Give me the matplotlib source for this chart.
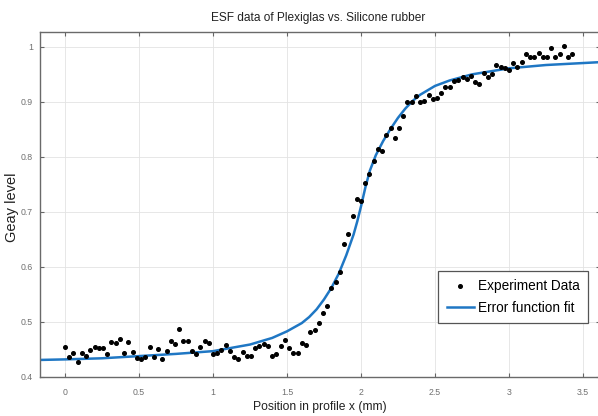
import numpy as np
import matplotlib
matplotlib.use("Agg")
import matplotlib.pyplot as plt
from matplotlib import font_manager

# ---------------- data ----------------
x_mm = [0.000, 0.029, 0.057, 0.086, 0.114, 0.143, 0.171, 0.200, 0.229, 0.257,
        0.286, 0.314, 0.343, 0.371, 0.400, 0.429, 0.457, 0.486, 0.514, 0.543,
        0.571, 0.600, 0.629, 0.657, 0.686, 0.714, 0.743, 0.771, 0.800, 0.829,
        0.857, 0.886, 0.914, 0.943, 0.971, 1.000, 1.029, 1.057, 1.086, 1.114,
        1.143, 1.171, 1.200, 1.229, 1.257, 1.286, 1.314, 1.343, 1.371, 1.400,
        1.429, 1.457, 1.486, 1.514, 1.543, 1.571, 1.600, 1.629, 1.657, 1.686,
        1.714, 1.743, 1.771, 1.800, 1.829, 1.857, 1.886, 1.914, 1.943, 1.971,
        2.000, 2.029, 2.057, 2.086, 2.114, 2.143, 2.171, 2.200, 2.229, 2.257,
        2.286, 2.314, 2.343, 2.371, 2.400, 2.429, 2.457, 2.486, 2.514, 2.543,
        2.571, 2.600, 2.629, 2.657, 2.686, 2.714, 2.743, 2.771, 2.800, 2.829,
        2.857, 2.886, 2.914, 2.943, 2.971, 3.000, 3.029, 3.057, 3.086, 3.114,
        3.143, 3.171, 3.200, 3.229, 3.257, 3.286, 3.314, 3.343, 3.371, 3.400,
        3.429]

gray_level = [0.455, 0.436, 0.443, 0.428, 0.444, 0.438, 0.449, 0.455, 0.452, 0.452,
              0.442, 0.464, 0.461, 0.469, 0.444, 0.463, 0.446, 0.434, 0.433, 0.436,
              0.455, 0.437, 0.451, 0.433, 0.448, 0.466, 0.460, 0.487, 0.466, 0.466,
              0.447, 0.441, 0.455, 0.466, 0.462, 0.442, 0.443, 0.449, 0.459, 0.447,
              0.436, 0.433, 0.445, 0.439, 0.439, 0.453, 0.457, 0.460, 0.456, 0.439,
              0.442, 0.456, 0.467, 0.453, 0.443, 0.443, 0.462, 0.458, 0.481, 0.486,
              0.499, 0.517, 0.529, 0.561, 0.572, 0.590, 0.641, 0.660, 0.692, 0.724,
              0.720, 0.752, 0.769, 0.793, 0.814, 0.811, 0.839, 0.853, 0.835, 0.852,
              0.874, 0.900, 0.900, 0.910, 0.900, 0.901, 0.913, 0.906, 0.907, 0.916,
              0.927, 0.927, 0.938, 0.940, 0.945, 0.942, 0.947, 0.936, 0.933, 0.952,
              0.945, 0.950, 0.967, 0.963, 0.961, 0.958, 0.970, 0.964, 0.973, 0.987,
              0.982, 0.982, 0.988, 0.982, 0.982, 0.998, 0.981, 0.987, 1.001, 0.981,
              0.987]

fit_x = [-0.17, 0.0, 0.25, 0.5, 0.75, 1.0, 1.25, 1.4, 1.5, 1.6, 1.65, 1.7, 1.75,
         1.8, 1.85, 1.9, 1.95, 1.975, 2.0, 2.03, 2.06, 2.1, 2.15, 2.2, 2.25, 2.3, 2.35,
         2.4, 2.5, 2.6, 2.75, 3.0, 3.25, 3.6]
fit_y = [0.431, 0.432, 0.434, 0.438, 0.442, 0.447, 0.459, 0.471, 0.483, 0.498,
         0.509, 0.523, 0.541, 0.562, 0.588, 0.621, 0.659, 0.683, 0.710, 0.745, 0.775,
         0.803, 0.829, 0.851, 0.871, 0.888, 0.902, 0.913, 0.929, 0.939, 0.950,
         0.961, 0.967, 0.972]

x_ticks = [0, 0.5, 1, 1.5, 2, 2.5, 3, 3.5]
x_tick_labels = ["0", "0.5", "1", "1.5", "2", "2.5", "3", "3.5"]
y_ticks = [0.4, 0.5, 0.6, 0.7, 0.8, 0.9, 1.0]
y_tick_labels = ["0.4", "0.5", "0.6", "0.7", "0.8", "0.9", "1"]

title = "ESF data of Plexiglas vs. Silicone rubber"
x_label = "Position in profile x (mm)"
y_label = "Geay level"
legend_labels = ["Experiment Data", "Error function fit"]

# ---------------- fonts ----------------
fam = ["Liberation Sans", "DejaVu Sans"]

# ---------------- figure ----------------
W, H = 598, 416
fig = plt.figure(figsize=(W / 100, H / 100), dpi=100)
left, right, top, bottom = 40, 600, 32, 377
ax = fig.add_axes([left / W, 1 - bottom / H, (right - left) / W, (bottom - top) / H])

ax.plot(x_mm, gray_level, linestyle="none", marker="o", markersize=2.6,
        color="black", label=legend_labels[0], zorder=3)
ax.plot(fit_x, fit_y, color="#1f77c4", linewidth=1.8, label=legend_labels[1], zorder=2)

ax.set_xlim(-0.169, 3.615)
ax.set_ylim(0.4, 1.027)
ax.set_xticks(x_ticks)
ax.set_xticklabels(x_tick_labels, family=fam, fontsize=6.3, color="#707070")
ax.set_yticks(y_ticks)
ax.set_yticklabels(y_tick_labels, family=fam, fontsize=6.3, color="#707070")
ax.tick_params(direction="in", length=3, width=0.8, color="#666666",
               top=True, right=True, pad=5)
ax.tick_params(axis="x", pad=8)
ax.grid(True, color="#e3e3e3", linewidth=0.6)
ax.set_axisbelow(True)
for s in ax.spines.values():
    s.set_color("#6a6a6a")
    s.set_linewidth(1.0)

fig.text(318 / W, 1 - 18.5 / H, title, ha="center", va="center",
         family=fam, fontsize=8.6, color="#222222")
fig.text(320 / W, 1 - 407 / H, x_label, ha="center", va="center",
         family=fam, fontsize=8.7, color="#222222")
fig.text(12 / W, 1 - 207 / H, y_label, ha="center", va="center", rotation=90,
         family=fam, fontsize=10.5, color="#222222")

leg = ax.legend(loc="lower right", bbox_to_anchor=((588 - left) / (right - left), (377 - 323) / (bottom - top)),
                prop=font_manager.FontProperties(family=fam, size=9.8),
                frameon=True, fancybox=False, edgecolor="#555555", framealpha=1,
                handlelength=2.0, handletextpad=0.3, borderpad=0.6,
                labelspacing=0.55, borderaxespad=0, markerscale=1.0)
leg.get_frame().set_linewidth(0.9)

fig.savefig("out.png", dpi=100)
